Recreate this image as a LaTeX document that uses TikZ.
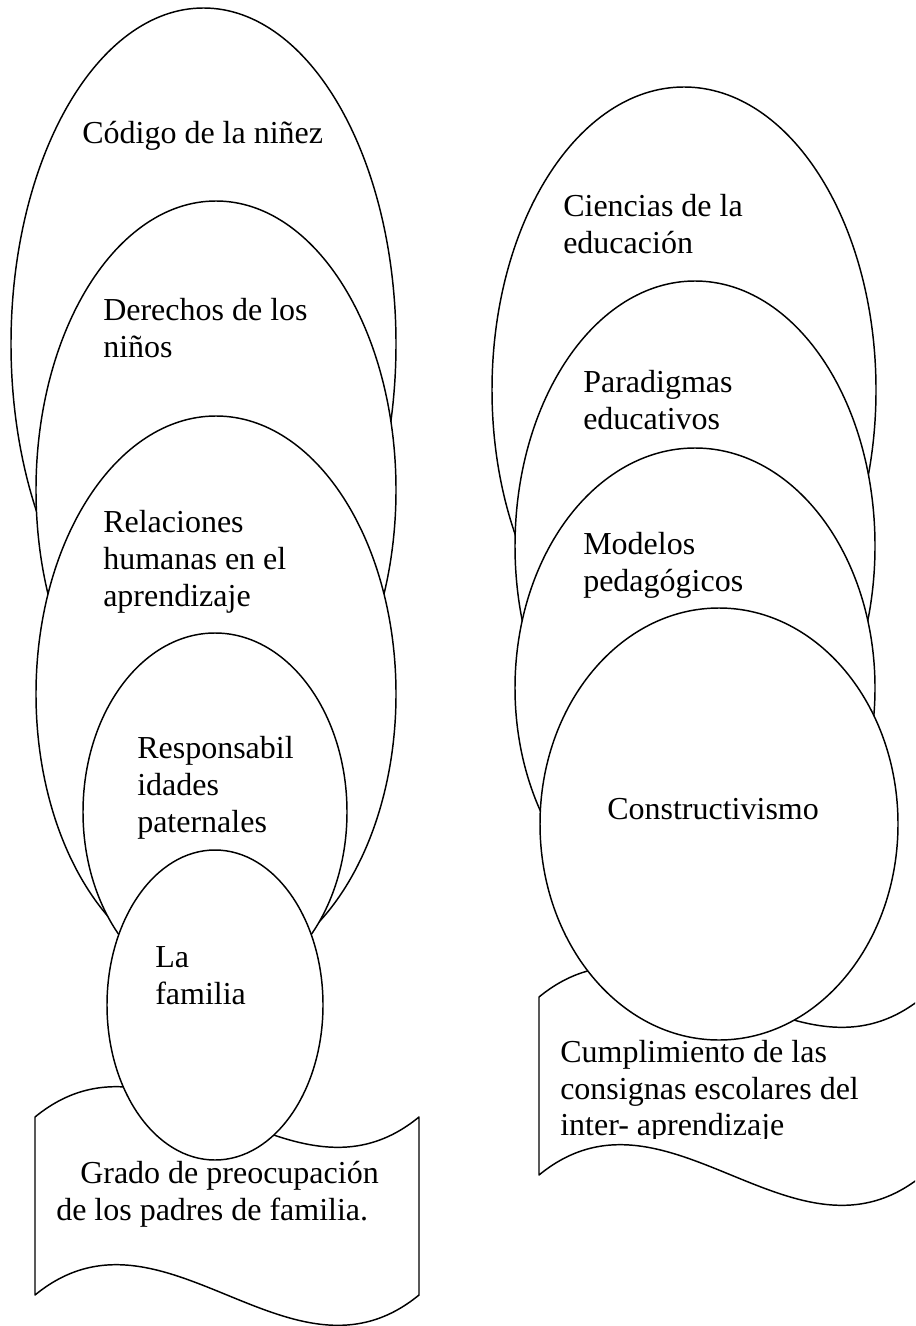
\documentclass[tikz,border=0pt]{standalone}
\usepackage{fontspec}
\setmainfont{Liberation Serif}
\usetikzlibrary{shapes.geometric}
\tikzset{
  oval/.style={ellipse, draw, fill=white, line width=1.1pt, inner sep=0pt, outer sep=0pt},
  lbl/.style={anchor=north west, align=left, inner sep=0pt, font=\fontsize{24}{27.75}\selectfont},
  docshape/.style={draw, fill=white, line width=1.1pt, line join=round},
}
\begin{document}
\begin{tikzpicture}[x=0.75pt, y=-0.75pt]
\useasboundingbox (0,0) rectangle (915,1326);
\clip (0,0) rectangle (915,1326);

% left document (wave) shape
\draw[docshape] (35,1117) .. controls (163,1012) and (291,1222) .. (419,1117)
  -- (419,1295) .. controls (291,1400) and (163,1190) .. (35,1295) -- cycle;
\node[lbl, font=\fontsize{24}{28}\selectfont] (tdocl) at (56,1160.5)
  {\hspace*{18pt}Grado de preocupación\\de los padres de familia.};

% right document (wave) shape
\draw[docshape] (539,997) .. controls (667,892) and (795,1102) .. (923,997)
  -- (923,1175) .. controls (795,1280) and (667,1070) .. (539,1175) -- cycle;
\begin{scope}
  \clip (530,900) rectangle (915,1138);
  \node[lbl, font=\fontsize{24}{27.5}\selectfont] (tdocr) at (560,1040)
    {Cumplimiento de las\\consignas escolares del\\inter- aprendizaje};
\end{scope}

% left column
\node[oval, minimum width=288.75pt, minimum height=504pt] (e1) at (203.5,344) {};
\node[lbl] (t1) at (82,121) {Código de la niñez};
\node[oval, minimum width=270pt, minimum height=433.5pt] (e2) at (216,490) {};
\node[lbl] (t2) at (103,298.5) {Derechos de los\\niños};
\node[oval, minimum width=270pt, minimum height=417pt] (e3) at (216,694) {};
\node[lbl] (t3) at (103,510.5) {Relaciones\\humanas en el\\aprendizaje};
\node[oval, minimum width=198pt, minimum height=268.5pt] (e4) at (215,812) {};
\node[lbl] (t4) at (137,736) {Responsabil\\idades\\paternales};
\node[oval, minimum width=162pt, minimum height=232.5pt] (e5) at (215,1005) {};
\node[lbl] (t5) at (155,946.5) {La\\familia};

% right column
\node[oval, minimum width=288pt, minimum height=454.5pt] (e6) at (684,390) {};
\node[lbl] (t6) at (563,194) {Ciencias de la\\educación};
\node[oval, minimum width=270pt, minimum height=397.5pt] (e7) at (695,546) {};
\node[lbl] (t7) at (583,370) {Paradigmas\\educativos};
\node[oval, minimum width=270pt, minimum height=360pt] (e8) at (695,688) {};
\node[lbl] (t8) at (583,532) {Modelos\\pedagógicos};
\node[oval, minimum width=268.5pt, minimum height=324pt] (e9) at (719,824) {};
\node[lbl] (t9) at (607,798) {Constructivismo};
\end{tikzpicture}
\end{document}
